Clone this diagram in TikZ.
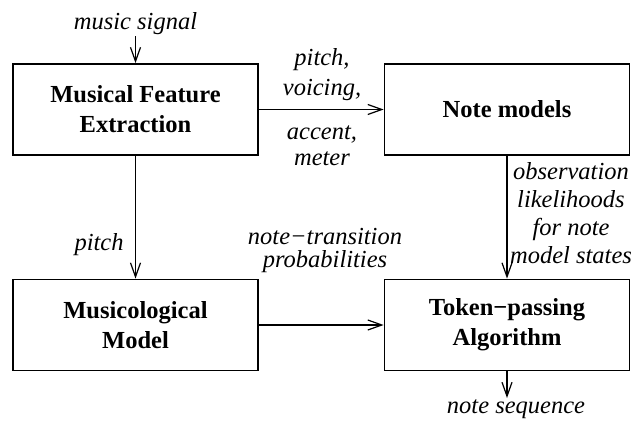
\documentclass[tikz,border=0pt]{standalone}
\usepackage{fontspec}
\setmainfont{Liberation Serif}
\usetikzlibrary{arrows.meta}

\begin{document}
\begin{tikzpicture}[x=1pt, y=-1pt,
        block/.style={draw, line width=1.8pt, minimum width=245pt, minimum height=91pt, align=center,
            font=\fontsize{24.5}{30}\selectfont\bfseries},
        lbl/.style={align=center, inner sep=1pt, anchor=base, font=\fontsize{24.5}{28}\selectfont\itshape},
        flow/.style={line width=1.8pt, -{Straight Barb[length=14pt, width=10pt, line width=1.2pt]}}]
        \useasboundingbox (0,0) rectangle (643,423);

        \node[block] (mfe) at (135.5,109.5) {Musical Feature\\Extraction};
        \node[block] (notes) at (507,109.5) {Note models};
        \node[block] (musico) at (135.5,325) {Musicological\\Model};
        \node[block] (token) at (507,325) {Token−passing\\Algorithm};

        \node[lbl] (signal) at (135.5,30) {music signal};
        \node[lbl] (pv) at (322,95) {pitch,\\[2pt]voicing,};
        \node[lbl] (am) at (322,165) {accent,\\[-2pt]meter};
        \node[lbl] (pitch) at (99,250) {pitch};
        \node[lbl] (trans) at (325,267) {note−transition\\[-5pt]probabilities};
        \node[lbl] (obs) at (571,263) {observation\\likelihoods\\for note\\model states};
        \node[lbl] (seq) at (516,413) {note sequence};

        \draw[flow] (signal) -- (mfe);
        \draw[flow] (mfe) -- (notes);
        \draw[flow] (mfe) -- (musico);
        \draw[flow] (notes) -- (token);
        \draw[flow] (musico) -- (token);
        \draw[flow] (token.south) -- (token.south |- seq.north);
    \end{tikzpicture}
\end{document}
